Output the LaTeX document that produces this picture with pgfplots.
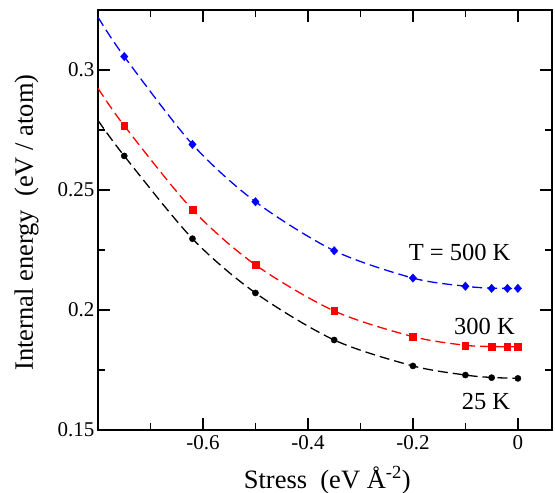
\documentclass[border=0pt]{standalone}
\usepackage{fontspec}
\setmainfont{Liberation Serif}
\usepackage{pgfplots}
\pgfplotsset{compat=1.18}
\usetikzlibrary{calc}
\begin{document}
\begin{tikzpicture}
\begin{axis}[name=ax,
  scale only axis, width=454pt, height=420pt,
  xmin=-0.8, xmax=0.065, ymin=0.15, ymax=0.325,
  axis line style={line width=1.6pt},
  xtick={-0.6,-0.4,-0.2,0}, xticklabels={-0.6,-0.4,-0.2,0},
  minor xtick={-0.7,-0.5,-0.3,-0.1},
  ytick={0.15,0.2,0.25,0.3}, yticklabels={0.15,0.2,0.25,0.3},
  minor ytick={0.175,0.225,0.275},
  tick align=inside, major tick length=12pt, minor tick length=7pt,
  every tick/.style={line width=1.4pt, black},
  tick label style={font=\fontsize{21}{24}\selectfont},
  xticklabel style={yshift=-2pt},
  label style={font=\fontsize{26.5}{30}\selectfont},
  xlabel={Stress\ \ (eV \AA\textsuperscript{-2})},
  ylabel={Internal energy\ \ (eV / atom)},
  xlabel style={at={(axis description cs:0.505,-0.1381)}, anchor=base},
  ylabel style={at={(axis description cs:-0.1432,0.494)}, anchor=base, rotate=0},
  clip=true,
]
% fitted curves
\addplot[blue, line width=1.3pt, dash pattern=on 10pt off 5pt, smooth] coordinates {
(-0.8,0.322) (-0.75,0.3056) (-0.62,0.2690) (-0.5,0.2451) (-0.35,0.2247) (-0.2,0.2133) (-0.1,0.2099) (-0.05,0.2091) (-0.02,0.2090) (0,0.2090)};
\addplot[red, line width=1.3pt, dash pattern=on 10pt off 5pt, smooth] coordinates {
(-0.8,0.2924) (-0.75,0.2768) (-0.62,0.2418) (-0.5,0.2188) (-0.35,0.1996) (-0.2,0.1889) (-0.1,0.1853) (-0.05,0.1848) (-0.02,0.1847) (0,0.1847)};
\addplot[black, line width=1.3pt, dash pattern=on 10pt off 5pt, smooth] coordinates {
(-0.8,0.279) (-0.75,0.2642) (-0.62,0.2297) (-0.5,0.2071) (-0.35,0.1875) (-0.2,0.1767) (-0.1,0.1729) (-0.05,0.1719) (0,0.1715)};
% markers
\addplot[only marks, mark=diamond*, mark size=4.2pt, blue, mark options={fill=blue, xscale=1.17}] coordinates {
(-0.75,0.3056) (-0.62,0.2690) (-0.5,0.2451) (-0.35,0.2247) (-0.2,0.2133) (-0.1,0.2099) (-0.05,0.2090) (-0.02,0.2090) (0,0.2090)};
\addplot[only marks, mark=square*, mark size=3.3pt, red, mark options={fill=red}] coordinates {
(-0.75,0.2768) (-0.62,0.2418) (-0.5,0.2188) (-0.35,0.1996) (-0.2,0.1889) (-0.1,0.1851) (-0.05,0.1847) (-0.02,0.1847) (0,0.1847)};
\addplot[only marks, mark=*, mark size=3.1pt, black] coordinates {
(-0.75,0.2642) (-0.62,0.2297) (-0.5,0.2071) (-0.35,0.1875) (-0.2,0.1767) (-0.1,0.1729) (-0.05,0.1718) (0,0.1715)};
\node[font=\fontsize{24.5}{28}\selectfont] at (axis cs:-0.111,0.224) {T = 500 K};
\node[font=\fontsize{24.5}{28}\selectfont] at (axis cs:-0.0637,0.1933) {300 K};
\node[font=\fontsize{24.5}{28}\selectfont] at (axis cs:-0.0608,0.1619) {25 K};
\end{axis}
\pgfresetboundingbox
\path ($(ax.south west)+(-98pt,-63pt)$) rectangle ($(ax.north east)+(3pt,10pt)$);
\end{tikzpicture}
\end{document}
